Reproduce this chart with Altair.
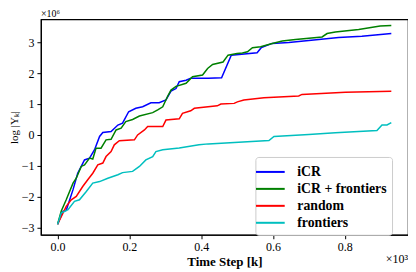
import altair as alt
import pandas as pd

series_names = ["iCR", "iCR + frontiers", "random", "frontiers"]
series_colors = ["#0000ff", "#008000", "#ff0000", "#00bfbf"]

icr_x = [0, 0.015, 0.024, 0.043, 0.056, 0.075, 0.089, 0.103, 0.117, 0.126, 0.149, 0.168, 0.181, 0.198,
         0.218, 0.237, 0.26, 0.283, 0.302, 0.316, 0.33, 0.339, 0.358, 0.371, 0.42, 0.457, 0.484, 0.556,
         0.568, 0.598, 0.644, 0.728, 0.783, 0.848, 0.93]
icr_y = [-2.89, -2.47, -2.44, -1.77, -1.24, -0.81, -0.75, -0.48, -0.05, 0.08, 0.11, 0.32, 0.38, 0.75,
         0.86, 0.91, 1.04, 1.04, 1.13, 1.42, 1.5, 1.72, 1.77, 1.83, 1.83, 1.85, 2.58, 2.66,
         2.83, 2.96, 2.99, 3.09, 3.15, 3.19, 3.28]

icrf_x = [0, 0.01, 0.024, 0.043, 0.052, 0.066, 0.075, 0.089, 0.098, 0.107, 0.121, 0.135, 0.149, 0.163,
          0.177, 0.19, 0.209, 0.228, 0.265, 0.279, 0.293, 0.307, 0.316, 0.33, 0.358, 0.376, 0.404, 0.418,
          0.432, 0.461, 0.475, 0.5, 0.515, 0.529, 0.543, 0.566, 0.598, 0.626, 0.663, 0.737, 0.751, 0.774,
          0.839, 0.899, 0.93]
icrf_y = [-2.89, -2.47, -2.1, -1.56, -1.40, -1.02, -0.97, -0.75, -0.78, -0.43, -0.43, -0.16, -0.14, 0.16,
          0.22, 0.43, 0.5, 0.61, 0.72, 0.81, 0.91, 1.26, 1.45, 1.57, 1.67, 1.88, 1.94, 2.15,
          2.28, 2.36, 2.58, 2.63, 2.65, 2.69, 2.82, 2.85, 2.96, 3.04, 3.09, 3.17, 3.28, 3.33,
          3.41, 3.52, 3.54]

rand_x = [0, 0.024, 0.038, 0.052, 0.07, 0.084, 0.098, 0.112, 0.126, 0.135, 0.149, 0.158, 0.172, 0.214,
          0.223, 0.242, 0.251, 0.293, 0.302, 0.339, 0.348, 0.371, 0.381, 0.445, 0.455, 0.492, 0.501,
          0.519, 0.575, 0.672, 0.681, 0.802, 0.93]
rand_y = [-2.89, -2.31, -2.10, -1.99, -1.67, -1.45, -1.24, -0.97, -0.91, -0.70, -0.54, -0.32, -0.19, -0.16,
          0.0, 0.16, 0.27, 0.27, 0.48, 0.52, 0.70, 0.78, 0.86, 0.94, 1.0, 1.02, 1.07,
          1.13, 1.20, 1.26, 1.31, 1.38, 1.41]

front_x = [0, 0.01, 0.029, 0.047, 0.061, 0.08, 0.098, 0.117, 0.14, 0.168, 0.181, 0.209, 0.228, 0.246,
           0.265, 0.274, 0.293, 0.339, 0.394, 0.42, 0.589, 0.603, 0.7, 0.774, 0.89, 0.904, 0.918, 0.93]
front_y = [-2.89, -2.53, -2.42, -2.15, -2.10, -1.83, -1.56, -1.51, -1.40, -1.29, -1.22, -1.18, -1.02, -0.81,
           -0.70, -0.54, -0.48, -0.42, -0.32, -0.29, -0.18, -0.05, 0.01, 0.07, 0.14, 0.32, 0.32, 0.4]

x_ticks = [0.0, 0.2, 0.4, 0.6, 0.8]
y_ticks = [-3, -2, -1, 0, 1, 2, 3]

rows = []
for name, xs, ys in zip(series_names, [icr_x, icrf_x, rand_x, front_x], [icr_y, icrf_y, rand_y, front_y]):
    for i, (a, b) in enumerate(zip(xs, ys)):
        rows.append({"series": name, "t": a, "v": b, "i": i})
df = pd.DataFrame(rows)

W, H = 368, 216
serif = "Liberation Serif"

lines = alt.Chart(df).mark_line(strokeWidth=1.5, clip=True).encode(
    x=alt.X("t:Q", scale=alt.Scale(domain=[-0.0465, 0.9765], nice=False, zero=False),
            axis=alt.Axis(values=x_ticks, format=".1f", title="Time Step [k]")),
    y=alt.Y("v:Q", scale=alt.Scale(domain=[-3.23, 3.74], nice=False, zero=False),
            axis=alt.Axis(values=y_ticks, format="d", title="log |Yₖ|")),
    color=alt.Color("series:N",
                    scale=alt.Scale(domain=series_names, range=series_colors),
                    legend=alt.Legend(title=None, orient="none", legendX=215, legendY=138,
                                      symbolType="M-1.6,0H1.6", symbolSize=324, symbolStrokeWidth=2,
                                      symbolFillColor="transparent",
                                      labelFont=serif, labelFontWeight="bold", labelFontSize=13.8,
                                      labelColor="black", fillColor="white", strokeColor="#cccccc",
                                      cornerRadius=3, padding=5, rowPadding=0, labelOffset=17,
                                      labelLimit=200, offset=0)),
    detail="series:N",
    order="i:Q",
)

exp6 = alt.Chart(pd.DataFrame({"txt": ["×10⁶"]})).mark_text(
    align="left", baseline="alphabetic", font=serif, fontSize=10, color="black"
).encode(text="txt:N", x=alt.value(0), y=alt.value(-2))
exp3 = alt.Chart(pd.DataFrame({"txt": ["×10³"]})).mark_text(
    align="right", baseline="top", font=serif, fontSize=12, color="black"
).encode(text="txt:N", x=alt.value(W), y=alt.value(H + 19))

chart = alt.layer(lines, exp6, exp3).properties(
    width=W, height=H,
    padding={"left": 33, "top": 11, "right": 0, "bottom": 37},
    autosize=alt.AutoSizeParams(type="none"),
).configure_view(stroke="black", strokeWidth=1.2).configure_axis(
    labelFont=serif, labelFontSize=12, labelColor="black",
    titleFont=serif, titleColor="black",
    domainColor="black", domainWidth=1.2, tickColor="black", tickSize=4, grid=False,
    labelPadding=3,
).configure_axisX(
    titleFontSize=13, titleFontWeight="bold", titlePadding=3,
).configure_axisY(
    titleFontSize=11, titleFontWeight="normal", titlePadding=2,
)

chart.save("out.html", embed_options={"renderer": "svg", "actions": False})
